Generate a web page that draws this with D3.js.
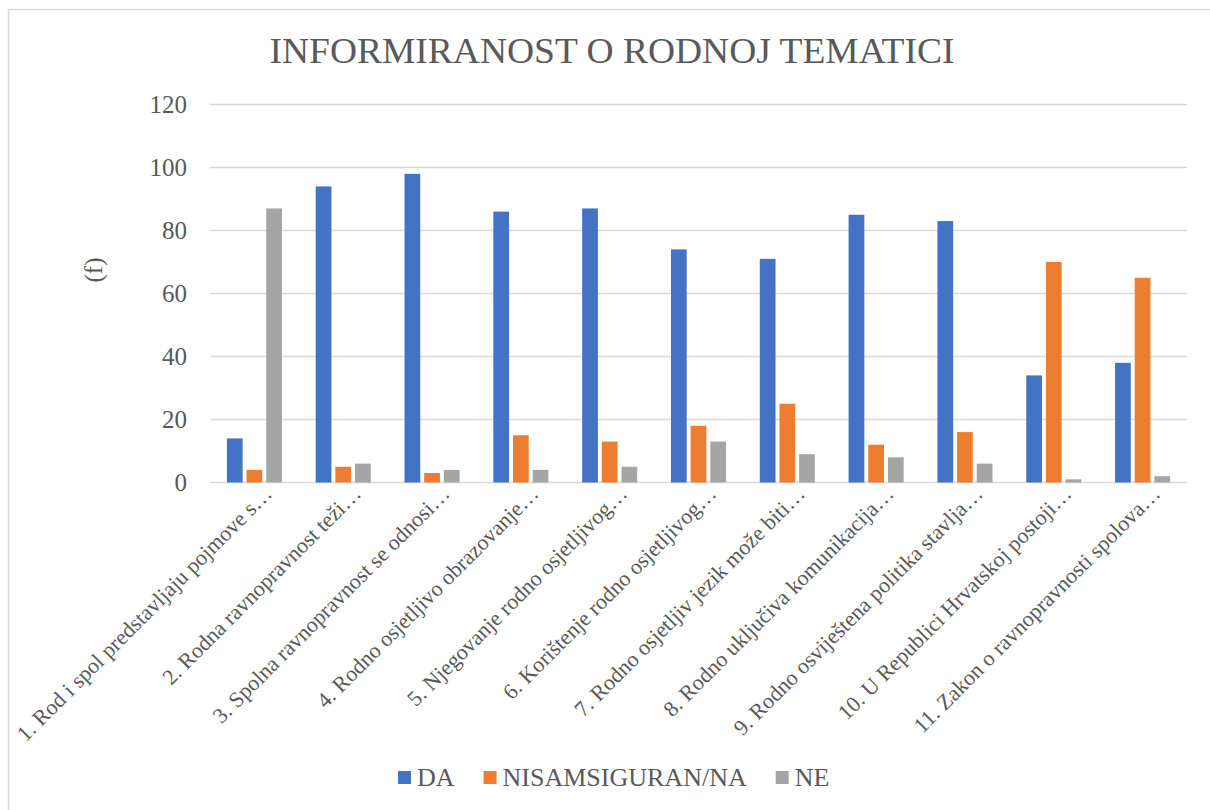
<!DOCTYPE html>
<html>
<head>
<meta charset="utf-8">
<script src="https://cdn.jsdelivr.net/npm/d3@7"></script>
<style>
  body { margin: 0; background: #fff; }
  svg { display: block; }
</style>
</head>
<body>
<svg id="chart" width="1210" height="810"></svg>
<script>
/* global d3 */

const categories = [
  '1. Rod i spol predstavljaju pojmove s…',
  '2. Rodna ravnopravnost teži…',
  '3. Spolna ravnopravnost se odnosi…',
  '4. Rodno osjetljivo obrazovanje…',
  '5. Njegovanje rodno osjetljivog…',
  '6. Korištenje rodno osjetljivog…',
  '7. Rodno osjetljiv jezik može biti…',
  '8. Rodno uključiva komunikacija…',
  '9. Rodno osviještena politika stavlja…',
  '10.  U Republici Hrvatskoj postoji…',
  '11. Zakon o ravnopravnosti spolova…',
];
const seriesNames = ['DA', 'NISAMSIGURAN/NA', 'NE'];
const da = [14, 94, 98, 86, 87, 74, 71, 85, 83, 34, 38];
const nisam = [4, 5, 3, 15, 13, 18, 25, 12, 16, 70, 65];
const ne = [87, 6, 4, 4, 5, 13, 9, 8, 6, 1, 2];
const yTicks = [0, 20, 40, 60, 80, 100, 120];
const colors = ['#4472C4', '#ED7D31', '#A5A5A5'];

const series = [da, nisam, ne];
const svg = d3.select('#chart');

// text helper so every label gets the serif face and grey fill
function label(sel) {
  return sel.style('font-family', '"Liberation Serif"').attr('fill', '#595959');
}

// outer chart border (only left and top visible in the picture)
svg.append('rect')
  .attr('x', 8.5).attr('y', 9.5)
  .attr('width', 1220).attr('height', 820)
  .attr('fill', 'none')
  .attr('stroke', '#D9D9D9')
  .attr('stroke-width', 1.5);

const x0 = d3.scaleBand()
  .domain(categories)
  .range([210, 1187])
  .paddingInner(0.38)
  .paddingOuter(0.19);

const x1 = d3.scaleBand()
  .domain(seriesNames)
  .range([0, x0.bandwidth()])
  .paddingInner(0.2);

const y = d3.scaleLinear()
  .domain([0, 120])
  .range([482.5, 104.5]);

const color = d3.scaleOrdinal().domain(seriesNames).range(colors);

// gridlines
svg.append('g')
  .selectAll('line')
  .data(yTicks)
  .join('line')
  .attr('x1', 210)
  .attr('x2', 1187)
  .attr('y1', d => y(d))
  .attr('y2', d => y(d))
  .attr('stroke', '#D9D9D9')
  .attr('stroke-width', 1.5);

// y tick labels
svg.append('g')
  .selectAll('text')
  .data(yTicks)
  .join('text')
  .call(label)
  .attr('x', 187)
  .attr('y', d => y(d) + 8.5)
  .attr('text-anchor', 'end')
  .attr('font-size', 25)
  .text(d => d);

// y axis title
svg.append('text')
  .call(label)
  .attr('transform', 'translate(102,270) rotate(-90)')
  .attr('text-anchor', 'middle')
  .attr('font-size', 25)
  .text('(f)');

// bars
const rows = categories.map((c, i) => ({
  cat: c,
  vals: seriesNames.map((s, j) => ({ s, v: series[j][i] })),
}));

svg.append('g')
  .selectAll('g')
  .data(rows)
  .join('g')
  .attr('transform', d => `translate(${x0(d.cat)},0)`)
  .selectAll('rect')
  .data(d => d.vals)
  .join('rect')
  .attr('x', d => x1(d.s))
  .attr('y', d => y(d.v))
  .attr('width', x1.bandwidth())
  .attr('height', d => y(0) - y(d.v))
  .attr('fill', d => color(d.s));

// x labels, rotated 45 degrees
svg.append('g')
  .selectAll('text')
  .data(categories)
  .join('text')
  .call(label)
  .attr('transform', d => `translate(${x0(d) + x0.bandwidth() / 2 + 19},495) rotate(-45)`)
  .attr('text-anchor', 'end')
  .attr('font-size', 22)
  .text(d => d);

// title
svg.append('text')
  .call(label)
  .attr('x', 612)
  .attr('y', 63)
  .attr('text-anchor', 'middle')
  .attr('textLength', 685)
  .attr('lengthAdjust', 'spacingAndGlyphs')
  .attr('font-size', 35)
  .text('INFORMIRANOST O RODNOJ TEMATICI');

// legend
const legend = svg.append('g');
let lx = 398;
seriesNames.forEach((s, i) => {
  legend.append('rect')
    .attr('x', lx).attr('y', 771)
    .attr('width', 13).attr('height', 13)
    .attr('fill', colors[i]);
  const t = legend.append('text')
    .call(label)
    .attr('x', lx + 19)
    .attr('y', 786)
    .attr('font-size', 26)
    .text(s);
  lx += 19 + t.node().getComputedTextLength() + 29;
});
</script>
</body>
</html>
